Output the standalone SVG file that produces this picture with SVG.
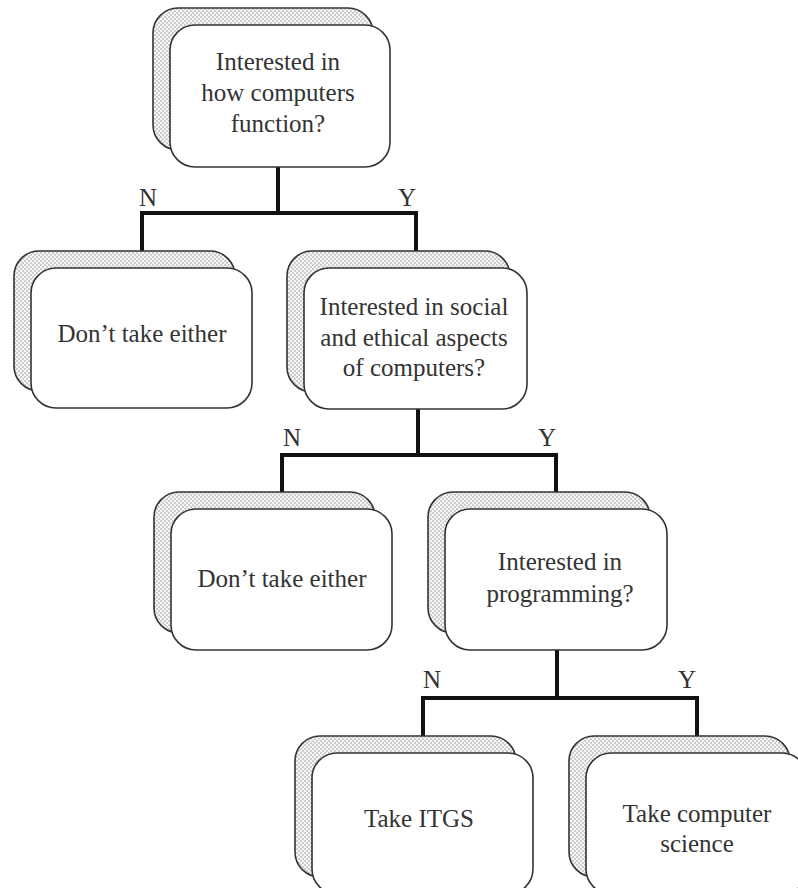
<svg xmlns="http://www.w3.org/2000/svg" width="798" height="888" viewBox="0 0 798 888">
<defs>
<pattern id="dots" width="4" height="4" patternUnits="userSpaceOnUse">
<rect width="4" height="4" fill="#f6f6f6"/>
<circle cx="1" cy="1" r="0.8" fill="#9a9a9a"/>
<circle cx="3" cy="3" r="0.8" fill="#9a9a9a"/>
</pattern>
<style>
.sh{fill:url(#dots);stroke:#333;stroke-width:1.6}
.fr{fill:#fff;stroke:#333;stroke-width:1.6}
.t{font-family:"Liberation Serif","Times New Roman",serif;font-size:25px;fill:#333;text-anchor:middle}
.c{fill:none;stroke:#111;stroke-width:4}
</style>
</defs>
<rect width="798" height="888" fill="#fff"/>
<g id="connectors">
<path class="c" d="M278 167 V213 M142 268 V213 H416 V268"/>
<path class="c" d="M418 409 V455 M282 509 V455 H556 V509"/>
<path class="c" d="M557 650 V698 M423 753 V698 H697 V753"/>
<text class="t" x="148" y="206">N</text>
<text class="t" x="407" y="206">Y</text>
<text class="t" x="292" y="446">N</text>
<text class="t" x="547" y="446">Y</text>
<text class="t" x="432" y="688">N</text>
<text class="t" x="687" y="688">Y</text>
</g>
<g id="n1">
<rect class="sh" x="153" y="8" width="220" height="142" rx="25"/>
<rect class="fr" x="170" y="25" width="220" height="142" rx="25"/>
<text class="t" x="278" y="70">Interested in</text>
<text class="t" x="278" y="101">how computers</text>
<text class="t" x="278" y="132">function?</text>
</g>
<g id="n2">
<rect class="sh" x="14" y="251" width="221" height="140" rx="25"/>
<rect class="fr" x="31" y="268" width="221" height="140" rx="25"/>
<text class="t" x="142" y="342">Don’t take either</text>
</g>
<g id="n3">
<rect class="sh" x="287" y="251" width="223" height="141" rx="25"/>
<rect class="fr" x="304" y="268" width="223" height="141" rx="25"/>
<text class="t" x="414" y="315">Interested in social</text>
<text class="t" x="414" y="346">and ethical aspects</text>
<text class="t" x="414" y="376">of computers?</text>
</g>
<g id="n4">
<rect class="sh" x="154" y="492" width="221" height="141" rx="25"/>
<rect class="fr" x="171" y="509" width="221" height="141" rx="25"/>
<text class="t" x="282" y="587">Don’t take either</text>
</g>
<g id="n5">
<rect class="sh" x="428" y="492" width="222" height="141" rx="25"/>
<rect class="fr" x="445" y="509" width="222" height="141" rx="25"/>
<text class="t" x="560" y="570">Interested in</text>
<text class="t" x="560" y="602">programming?</text>
</g>
<g id="n6">
<rect class="sh" x="295" y="736" width="221" height="141" rx="25"/>
<rect class="fr" x="312" y="753" width="221" height="141" rx="25"/>
<text class="t" x="419" y="827">Take ITGS</text>
</g>
<g id="n7">
<rect class="sh" x="569" y="736" width="221" height="141" rx="25"/>
<rect class="fr" x="586" y="753" width="221" height="141" rx="25"/>
<text class="t" x="697" y="822">Take computer</text>
<text class="t" x="697" y="852">science</text>
</g>
</svg>
